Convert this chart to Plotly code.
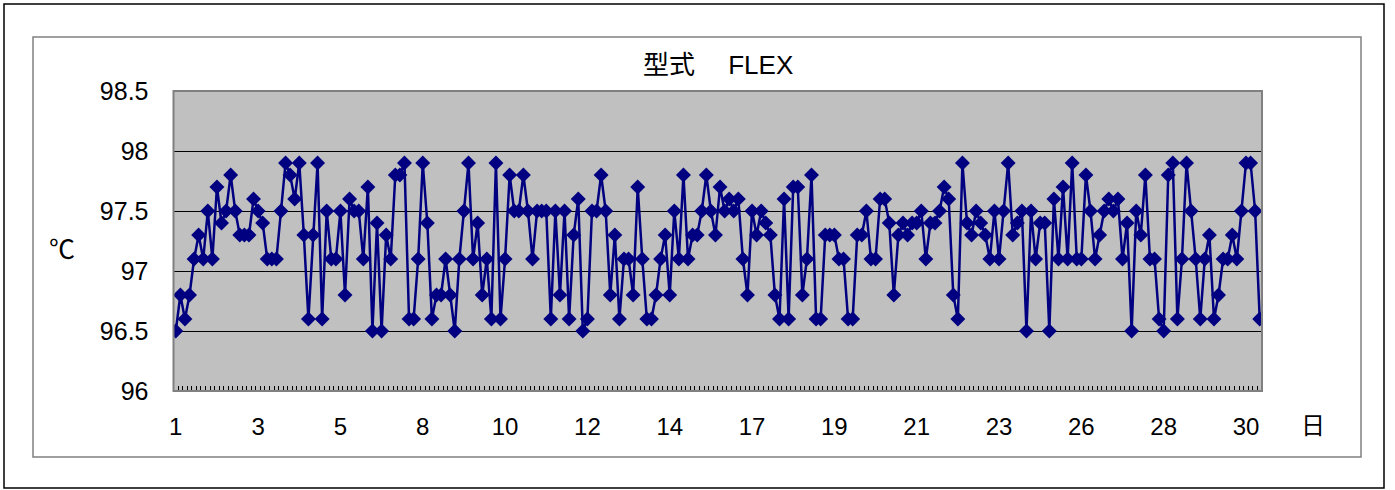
import plotly.graph_objects as go

# Daily temperature readings (°C), in measurement order
temps = [
    96.5, 96.8, 96.6, 96.8, 97.1, 97.3, 97.1, 97.5, 97.1, 97.7,
    97.4, 97.5, 97.8, 97.5, 97.3, 97.3, 97.3, 97.6, 97.5, 97.4,
    97.1, 97.1, 97.1, 97.5, 97.9, 97.8, 97.6, 97.9, 97.3, 96.6,
    97.3, 97.9, 96.6, 97.5, 97.1, 97.1, 97.5, 96.8, 97.6, 97.5,
    97.5, 97.1, 97.7, 96.5, 97.4, 96.5, 97.3, 97.1, 97.8, 97.8,
    97.9, 96.6, 96.6, 97.1, 97.9, 97.4, 96.6, 96.8, 96.8, 97.1,
    96.8, 96.5, 97.1, 97.5, 97.9, 97.1, 97.4, 96.8, 97.1, 96.6,
    97.9, 96.6, 97.1, 97.8, 97.5, 97.5, 97.8, 97.5, 97.1, 97.5,
    97.5, 97.5, 96.6, 97.5, 96.8, 97.5, 96.6, 97.3, 97.6, 96.5,
    96.6, 97.5, 97.5, 97.8, 97.5, 96.8, 97.3, 96.6, 97.1, 97.1,
    96.8, 97.7, 97.1, 96.6, 96.6, 96.8, 97.1, 97.3, 96.8, 97.5,
    97.1, 97.8, 97.1, 97.3, 97.3, 97.5, 97.8, 97.5, 97.3, 97.7,
    97.5, 97.6, 97.5, 97.6, 97.1, 96.8, 97.5, 97.3, 97.5, 97.4,
    97.3, 96.8, 96.6, 97.6, 96.6, 97.7, 97.7, 96.8, 97.1, 97.8,
    96.6, 96.6, 97.3, 97.3, 97.3, 97.1, 97.1, 96.6, 96.6, 97.3,
    97.3, 97.5, 97.1, 97.1, 97.6, 97.6, 97.4, 96.8, 97.3, 97.4,
    97.3, 97.4, 97.4, 97.5, 97.1, 97.4, 97.4, 97.5, 97.7, 97.6,
    96.8, 96.6, 97.9, 97.4, 97.3, 97.5, 97.4, 97.3, 97.1, 97.5,
    97.1, 97.5, 97.9, 97.3, 97.4, 97.5, 96.5, 97.5, 97.1, 97.4,
    97.4, 96.5, 97.6, 97.1, 97.7, 97.1, 97.9, 97.1, 97.1, 97.8,
    97.5, 97.1, 97.3, 97.5, 97.6, 97.5, 97.6, 97.1, 97.4, 96.5,
    97.5, 97.3, 97.8, 97.1, 97.1, 96.6, 96.5, 97.8, 97.9, 96.6,
    97.1, 97.9, 97.5, 97.1, 96.6, 97.1, 97.3, 96.6, 96.8, 97.1,
    97.1, 97.3, 97.1, 97.5, 97.9, 97.9, 97.5, 96.6,
]

# Day labels shown along the category axis (every 18th reading)
day_labels = ["1", "3", "5", "8", "10", "12", "14", "17", "19", "21", "23", "26", "28", "30"]
label_step = 18

y_ticks = [96, 96.5, 97, 97.5, 98, 98.5]
y_tick_text = ["96", "96.5", "97", "97.5", "98", "98.5"]

W, H = 1395, 490
plot_left, plot_right = 173.5, 1262.0
plot_top, plot_bottom = 91.0, 391.0

n = len(temps)
idx = list(range(n))

num_font = "Liberation Sans, Arial, sans-serif"
jp_font = "Noto Sans CJK JP, sans-serif"
mixed_font = "Liberation Sans, Noto Sans CJK JP, sans-serif"

fig = go.Figure()
fig.add_trace(go.Scatter(
    x=idx,
    y=temps,
    mode="lines+markers",
    line=dict(color="#000080", width=2.5),
    marker=dict(symbol="diamond", size=11.5, color="#000080",
                line=dict(width=0)),
    showlegend=False,
    hoverinfo="y",
))

fig.update_layout(
    template="none",
    autosize=False,
    width=W,
    height=H,
    margin=dict(l=0, r=0, t=0, b=0, pad=0),
    paper_bgcolor="white",
    plot_bgcolor="#C0C0C0",
    xaxis=dict(
        automargin=False,
        domain=[plot_left / W, plot_right / W],
        range=[-0.5, n - 0.5],
        tickmode="array",
        tickvals=[i * label_step for i in range(len(day_labels))],
        ticktext=day_labels,
        ticks="outside",
        ticklen=14,
        tickcolor="rgba(0,0,0,0)",
        tickfont=dict(family=num_font, size=24, color="black"),
        showgrid=False,
        zeroline=False,
        showline=False,
        minor=dict(
            tickmode="linear",
            tick0=-0.5,
            dtick=1,
            ticks="inside",
            ticklen=5,
            tickwidth=1,
            tickcolor="black",
            showgrid=False,
        ),
    ),
    yaxis=dict(
        automargin=False,
        domain=[1 - plot_bottom / H, 1 - plot_top / H],
        range=[96, 98.5],
        tickmode="array",
        tickvals=y_ticks,
        ticktext=y_tick_text,
        ticks="outside",
        ticklen=19,
        tickcolor="rgba(0,0,0,0)",
        tickfont=dict(family=num_font, size=25, color="black"),
        showgrid=True,
        gridcolor="black",
        gridwidth=1,
        zeroline=False,
        showline=False,
    ),
)

# Plot-area frame
fig.add_shape(type="rect", xref="paper", yref="paper",
              x0=plot_left / W, x1=plot_right / W,
              y0=1 - plot_bottom / H, y1=1 - plot_top / H,
              line=dict(color="#808080", width=2), layer="above")

# Chart-area frame and outer frame
fig.add_shape(type="rect", xref="paper", yref="paper",
              x0=33 / W, x1=1361 / W, y0=1 - 457 / H, y1=1 - 37 / H,
              line=dict(color="#808080", width=1.5))
fig.add_shape(type="rect", xref="paper", yref="paper",
              x0=4 / W, x1=1384 / W, y0=1 - 488 / H, y1=1 - 4 / H,
              line=dict(color="black", width=1.5))

# Title and axis captions
fig.add_annotation(text="型式　 FLEX", xref="paper", yref="paper",
                   x=(plot_left + plot_right) / 2 / W, y=1 - 65 / H,
                   showarrow=False, xanchor="center", yanchor="middle",
                   font=dict(family=mixed_font, size=26, color="black"))
fig.add_annotation(text="℃", xref="paper", yref="paper",
                   x=62 / W, y=1 - 248 / H,
                   showarrow=False, xanchor="center", yanchor="middle",
                   font=dict(family=jp_font, size=26, color="black"))
fig.add_annotation(text="日", xref="paper", yref="paper",
                   x=1313 / W, y=1 - 423 / H,
                   showarrow=False, xanchor="center", yanchor="middle",
                   font=dict(family=jp_font, size=24, color="black"))

fig.write_html("out.html")
